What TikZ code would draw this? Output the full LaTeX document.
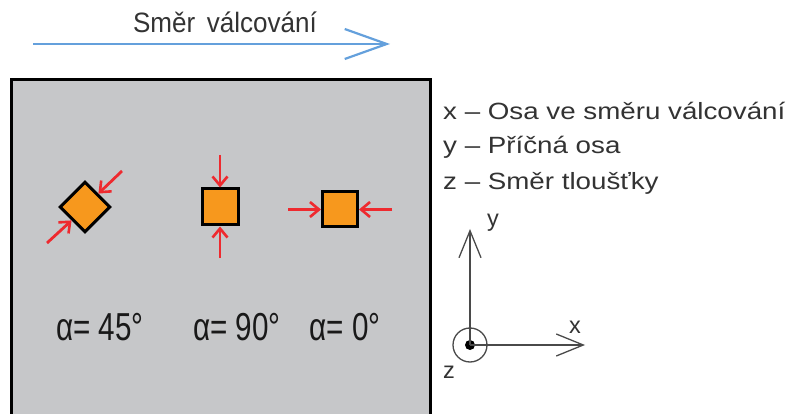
\documentclass[tikz,border=0pt]{standalone}
\usepackage{fontspec}
\setmainfont{Liberation Sans}
\usetikzlibrary{arrows.meta}
\definecolor{platefill}{HTML}{C6C7C9}
\definecolor{sqorange}{HTML}{F7981D}
\definecolor{forcered}{HTML}{EE2A2F}
\definecolor{rollblue}{HTML}{64A0DC}
\definecolor{axisgray}{HTML}{4A4A4A}
\definecolor{txtgray}{HTML}{333333}
\tikzset{
  sample/.style={draw=black, fill=sqorange, line width=3pt, minimum size=35pt, inner sep=0pt, rectangle},
  force/.style={draw=forcered, line width=2.8pt, -{Straight Barb[length=9pt,width=15pt,line width=2.6pt]}},
  axisline/.style={draw=axisgray, line width=1.3pt, -{Straight Barb[length=27pt,width=22pt,line width=1.3pt]}},
  anglelabel/.style={font=\fontsize{39}{40}\selectfont, text=black!90, inner sep=0pt},
  legendtxt/.style={font=\fontsize{23.5}{26}\selectfont, text=txtgray, inner sep=0pt, anchor=west},
  axlabel/.style={font=\fontsize{23.5}{26}\selectfont, text=txtgray, inner sep=0pt}
}
\begin{document}
\begin{tikzpicture}[x=1pt,y=-1pt]
\useasboundingbox (0,0) rectangle (787,414);
\fill[white] (0,0) rectangle (787,414);
\begin{scope}
\clip (0,0) rectangle (787,414);
\draw[line width=3pt, fill=platefill] (11.5,79.5) rectangle (430,420);
\end{scope}
% title and rolling direction
\node[font=\fontsize{28}{30}\selectfont, text=txtgray, inner sep=0pt] (title) at (225,22) {\scalebox{0.93}[1]{Směr \,válcování}};
\coordinate (rs) at (33,44);
\coordinate (re) at (390,44);
\draw[draw=rollblue, line width=2.2pt, -{Straight Barb[length=42pt,width=30pt,line width=2.2pt]}] (rs) -- (re);
% samples
\node[sample, rotate=45] (s45) at (85,207) {};
\node[sample, minimum size=36pt] (s90) at (220,207) {};
\node[sample] (s0) at (340,209.5) {};
% forces
\coordinate (f45a) at (122,171);
\coordinate (f45b) at (47,243);
\draw[force] (f45a) -- (s45.east);
\draw[force] (f45b) -- (s45.west);
\coordinate (f90a) at (220,155);
\coordinate (f90b) at (220,258);
\draw[force] (f90a) -- (s90.north);
\draw[force] (f90b) -- (s90.south);
\coordinate (f0a) at (288,209.5);
\coordinate (f0b) at (392,209.5);
\draw[force] (f0a) -- (s0.west);
\draw[force] (f0b) -- (s0.east);
% angle labels
\node[anglelabel] (l45) at (100,327) {\scalebox{0.76}[1]{α= 45°}};
\node[anglelabel] (l90) at (237,327) {\scalebox{0.76}[1]{α= 90°}};
\node[anglelabel] (l0) at (345,327) {\scalebox{0.76}[1]{α= 0°}};
% legend
\node[legendtxt] (lx) at (443,111) {\scalebox{1.18}[1]{x – Osa ve směru válcování}};
\node[legendtxt] (ly) at (443,147) {\scalebox{1.18}[1]{y – Příčná osa}};
\node[legendtxt] (lz) at (443,183) {\scalebox{1.18}[1]{z – Směr tloušťky}};
% coordinate system
\coordinate (O) at (470,345);
\coordinate (ytip) at (470,229);
\coordinate (xtip) at (585,345);
\node[draw=axisgray, line width=1.3pt, circle, minimum size=34pt, inner sep=0pt] (zc) at (O) {};
\fill[black] (O) circle (5pt);
\draw[axisline] (O) -- (ytip);
\draw[axisline] (O) -- (xtip);
\node[axlabel] (ly2) at (493,223) {y};
\node[axlabel] (lx2) at (575,327) {x};
\node[axlabel] (lz2) at (449,372) {z};
\end{tikzpicture}
\end{document}
